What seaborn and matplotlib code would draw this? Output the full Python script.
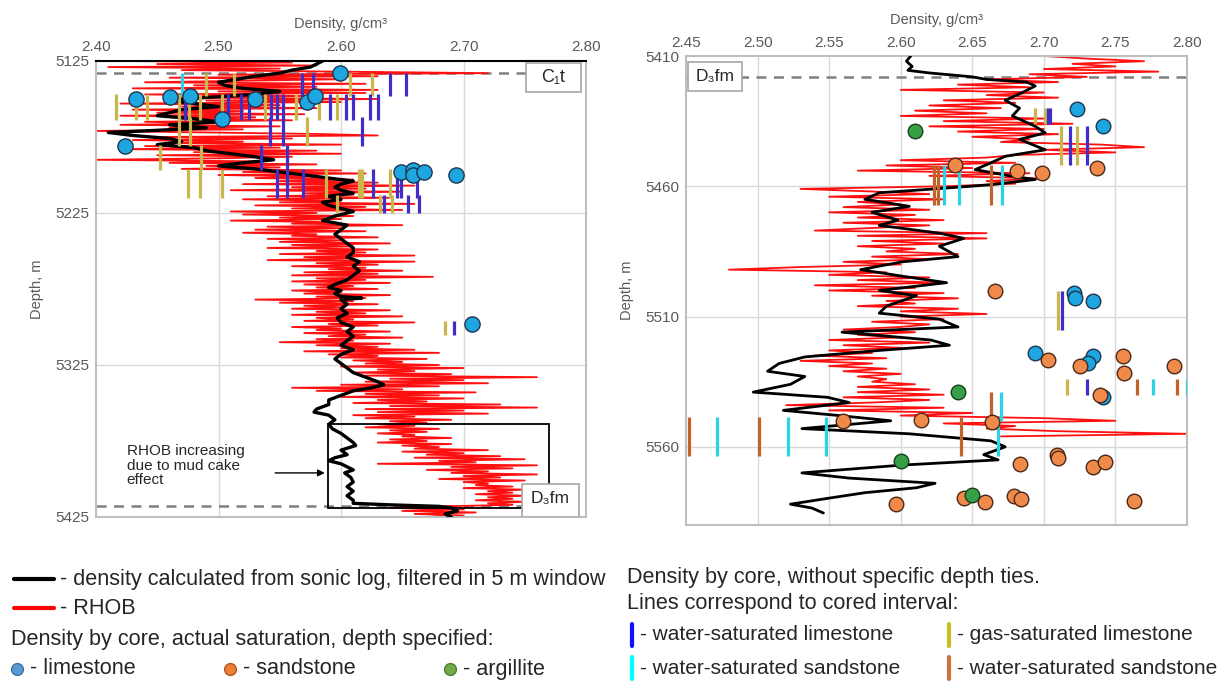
import numpy as np
import pandas as pd
import matplotlib
matplotlib.use("Agg")
import matplotlib.pyplot as plt
import seaborn as sns
from matplotlib.lines import Line2D
from matplotlib.patches import Rectangle

# ---------------- DATA ----------------
# Left well: RHOB log, 1 m sampling from 5125 m
rhob_left_start = 5125
rhob_left = [
    2.42, 2.56, 2.45, 2.58, 2.41, 2.55, 2.47, 2.60, 2.72, 2.50,
    2.63, 2.46, 2.60, 2.52, 2.44, 2.62, 2.48, 2.58, 2.43, 2.63,
    2.50, 2.62, 2.44, 2.57, 2.46, 2.63, 2.49, 2.60, 2.42, 2.55,
    2.47, 2.58, 2.43, 2.52, 2.45, 2.57, 2.42, 2.53, 2.47, 2.56,
    2.44, 2.50, 2.42, 2.55, 2.46, 2.52, 2.40, 2.49, 2.58, 2.63,
    2.45, 2.56, 2.43, 2.52, 2.47, 2.60, 2.44, 2.55, 2.42, 2.58,
    2.48, 2.60, 2.45, 2.56, 2.50, 2.40, 2.53, 2.46, 2.58, 2.49,
    2.55, 2.47, 2.60, 2.52, 2.62, 2.50, 2.58, 2.53, 2.61, 2.55,
    2.63, 2.52, 2.66, 2.56, 2.62, 2.51, 2.65, 2.57, 2.61, 2.54,
    2.64, 2.52, 2.60, 2.55, 2.66, 2.53, 2.62, 2.56, 2.65, 2.51,
    2.58, 2.52, 2.61, 2.55, 2.60, 2.51, 2.59, 2.56, 2.65, 2.54,
    2.60, 2.53, 2.62, 2.52, 2.58, 2.56, 2.63, 2.54, 2.60, 2.55,
    2.64, 2.56, 2.61, 2.54, 2.63, 2.58, 2.62, 2.55, 2.66, 2.57,
    2.61, 2.54, 2.66, 2.58, 2.63, 2.56, 2.62, 2.59, 2.65, 2.57,
    2.63, 2.56, 2.675, 2.58, 2.62, 2.56, 2.64, 2.57, 2.61, 2.58,
    2.63, 2.56, 2.60, 2.57, 2.64, 2.58, 2.62, 2.53, 2.61, 2.55,
    2.63, 2.57, 2.60, 2.56, 2.64, 2.58, 2.62, 2.56, 2.65, 2.58,
    2.61, 2.57, 2.66, 2.59, 2.63, 2.56, 2.60, 2.58, 2.64, 2.57,
    2.62, 2.59, 2.65, 2.58, 2.61, 2.55, 2.64, 2.58, 2.63, 2.60,
    2.66, 2.57, 2.68, 2.59, 2.63, 2.60, 2.67, 2.61, 2.65, 2.62,
    2.68, 2.60, 2.70, 2.63, 2.66, 2.61, 2.69, 2.62, 2.76, 2.64,
    2.70, 2.62, 2.72, 2.60, 2.68, 2.56, 2.65, 2.58, 2.71, 2.62,
    2.68, 2.60, 2.70, 2.63, 2.67, 2.61, 2.73, 2.64, 2.76, 2.62,
    2.70, 2.63, 2.72, 2.61, 2.66, 2.62, 2.69, 2.64, 2.67, 2.63,
    2.66, 2.62, 2.68, 2.64, 2.67, 2.63, 2.66, 2.65, 2.69, 2.64,
    2.67, 2.63, 2.69, 2.65, 2.68, 2.66, 2.72, 2.65, 2.70, 2.67,
    2.73, 2.66, 2.75, 2.68, 2.71, 2.63, 2.76, 2.69, 2.74, 2.67,
    2.72, 2.69, 2.76, 2.70, 2.73, 2.68, 2.75, 2.70, 2.72, 2.71,
    2.74, 2.70, 2.75, 2.72, 2.74, 2.71, 2.75, 2.72, 2.74, 2.71,
    2.75, 2.72, 2.74, 2.68, 2.64, 2.70, 2.65, 2.71, 2.66, 2.70,
    2.67,
]

# Left well: sonic-derived density (filtered)
sonic_left_depth = [
    5125, 5127, 5129, 5131, 5133, 5135, 5137, 5139, 5141, 5143, 5145, 5147,
    5149, 5151, 5153, 5155, 5157, 5159, 5161, 5163, 5165, 5167, 5169, 5171,
    5172, 5174, 5176, 5178, 5180, 5182, 5184, 5186, 5188, 5190, 5192, 5194,
    5196, 5198, 5200, 5202, 5204, 5206, 5208, 5210, 5212, 5214, 5216, 5218,
    5220, 5222, 5224, 5227, 5230, 5233, 5236, 5239, 5242, 5245, 5248, 5251,
    5254, 5257, 5260, 5263, 5266, 5269, 5272, 5274, 5276, 5278, 5280, 5281,
    5282, 5285, 5288, 5291, 5294, 5297, 5300, 5303, 5306, 5309, 5312, 5315,
    5318, 5321, 5324, 5327, 5330, 5333, 5336, 5338, 5340, 5342, 5345, 5348,
    5351, 5354, 5356, 5358, 5361, 5364, 5367, 5370, 5373, 5376, 5378, 5381,
    5384, 5386, 5388, 5390, 5392, 5394, 5396, 5399, 5402, 5405, 5408, 5411,
    5414, 5416, 5417, 5418, 5419, 5421, 5423, 5425,
]
sonic_left = [
    2.585, 2.58, 2.575, 2.56, 2.55, 2.53, 2.515, 2.50, 2.505, 2.52, 2.55, 2.53,
    2.49, 2.46, 2.48, 2.50, 2.47, 2.46, 2.45, 2.48, 2.50, 2.46, 2.49, 2.44,
    2.41, 2.43, 2.46, 2.47, 2.45, 2.48, 2.49, 2.51, 2.53, 2.545, 2.52, 2.50,
    2.53, 2.55, 2.57, 2.59, 2.61, 2.60, 2.595, 2.60, 2.61, 2.59, 2.60, 2.585,
    2.59, 2.60, 2.61, 2.595, 2.585, 2.605, 2.60, 2.595, 2.60, 2.605, 2.61, 2.61,
    2.605, 2.615, 2.61, 2.615, 2.61, 2.605, 2.595, 2.59, 2.60, 2.595, 2.60, 2.617,
    2.60, 2.605, 2.60, 2.605, 2.597, 2.60, 2.61, 2.605, 2.61, 2.605, 2.60, 2.61,
    2.60, 2.595, 2.60, 2.605, 2.61, 2.62, 2.63, 2.635, 2.625, 2.61, 2.60, 2.59,
    2.59, 2.58, 2.578, 2.59, 2.595, 2.59, 2.593, 2.60, 2.605, 2.61, 2.612, 2.60,
    2.605, 2.595, 2.59, 2.60, 2.605, 2.61, 2.603, 2.608, 2.61, 2.605, 2.61, 2.605,
    2.61, 2.61, 2.64, 2.68, 2.69, 2.695, 2.685, 2.69,
]

# Left well: core density, depth specified (limestone)
lime_left_depth = [5133, 5150, 5149, 5148, 5150, 5152, 5148, 5163, 5181,
                   5198, 5197, 5200, 5198, 5200, 5298]
lime_left = [2.599, 2.433, 2.460, 2.477, 2.530, 2.572, 2.579, 2.503, 2.424,
             2.649, 2.659, 2.659, 2.668, 2.694, 2.707]

# Left well: cored intervals (density, top, bottom, type)
core_left_val = [
    2.470, 2.490, 2.513, 2.568, 2.577, 2.607, 2.625, 2.640, 2.653,
    2.416, 2.433, 2.442, 2.468, 2.473, 2.476, 2.485, 2.503, 2.508, 2.518,
    2.525, 2.538, 2.543, 2.548, 2.553, 2.563, 2.582, 2.591, 2.597, 2.604,
    2.610, 2.624, 2.630,
    2.468, 2.477, 2.542, 2.553, 2.572, 2.617,
    2.452, 2.486, 2.535, 2.556,
    2.475, 2.485, 2.503, 2.548, 2.556, 2.569, 2.588, 2.615, 2.617, 2.626,
    2.640, 2.646, 2.649, 2.662,
    2.597, 2.632, 2.635, 2.642, 2.655, 2.664,
    2.685, 2.692,
]
core_left_top = (
    [5133] * 9 + [5147] * 23 + [5162] * 6 + [5180] * 4 + [5196] * 14
    + [5213] * 6 + [5296] * 2
)
core_left_bot = (
    [5148] * 9 + [5164] * 23 + [5181] * 6 + [5197] * 4 + [5215] * 14
    + [5225] * 6 + [5305] * 2
)
core_left_type = [
    "ws", "g", "g", "w", "w", "g", "g", "w", "w",
    "g", "g", "g", "g", "w", "g", "g", "g", "w", "w",
    "w", "g", "w", "w", "w", "g", "g", "w", "g", "w",
    "w", "w", "w",
    "g", "g", "w", "w", "g", "w",
    "g", "g", "w", "w",
    "g", "g", "g", "w", "w", "w", "g", "g", "g", "w",
    "g", "w", "w", "w",
    "g", "g", "w", "g", "w", "w",
    "g", "w",
]

# Right well: RHOB log, 1 m sampling from 5410 m
rhob_right_start = 5410
rhob_right = [
    2.70, 2.73, 2.77, 2.72, 2.75, 2.70, 2.78, 2.69, 2.73, 2.66,
    2.71, 2.64, 2.69, 2.60, 2.70, 2.66, 2.71, 2.63, 2.68, 2.62,
    2.67, 2.61, 2.66, 2.60, 2.70, 2.63, 2.72, 2.62, 2.70, 2.64,
    2.71, 2.65, 2.69, 2.67, 2.74, 2.77, 2.70, 2.75, 2.68, 2.66,
    2.60, 2.68, 2.59, 2.65, 2.57, 2.69, 2.62, 2.70, 2.66, 2.68,
    2.63, 2.53, 2.58, 2.62, 2.55, 2.63, 2.57, 2.60, 2.56, 2.62,
    2.55, 2.61, 2.57, 2.63, 2.56, 2.62, 2.58, 2.54, 2.66, 2.57,
    2.66, 2.58, 2.63, 2.57, 2.61, 2.59, 2.64, 2.58, 2.62, 2.56,
    2.60, 2.53, 2.48, 2.59, 2.55, 2.62, 2.57, 2.63, 2.54, 2.61,
    2.55, 2.63, 2.58, 2.64, 2.59, 2.61, 2.57, 2.64, 2.60, 2.66,
    2.60, 2.63, 2.58, 2.62, 2.60, 2.56, 2.61, 2.57, 2.60, 2.55,
    2.62, 2.56, 2.60, 2.55, 2.58, 2.54, 2.59, 2.53, 2.58, 2.55,
    2.59, 2.56, 2.60, 2.57, 2.59, 2.58, 2.61, 2.57, 2.62, 2.57,
    2.63, 2.56, 2.62, 2.58, 2.52, 2.63, 2.55, 2.65, 2.60, 2.70,
    2.75, 2.63, 2.68, 2.66, 2.71, 2.80, 2.67,
]

# Right well: sonic-derived density
sonic_right_depth = [
    5410, 5412, 5414, 5415.5, 5416.5, 5418, 5419, 5420, 5421.5, 5424, 5427,
    5430, 5433, 5437, 5439.5, 5442, 5446, 5448.5, 5451, 5453.6, 5456, 5457.4,
    5459.4, 5461, 5462.5, 5465, 5467.7, 5470, 5473, 5475, 5478, 5480, 5483,
    5487, 5489, 5492, 5494.5, 5497, 5500, 5502, 5506, 5508.7, 5511, 5514,
    5516, 5519, 5521, 5523, 5525.5, 5528, 5531, 5533, 5536, 5539, 5541, 5543,
    5546, 5548, 5550, 5553, 5555, 5557.7, 5560, 5563, 5565, 5567, 5570, 5572,
    5574, 5575.7, 5577.6, 5579.6, 5582, 5583.5, 5585.4,
]
sonic_right = [
    2.607, 2.604, 2.608, 2.605, 2.62, 2.65, 2.66, 2.688, 2.694, 2.685, 2.673,
    2.683, 2.678, 2.694, 2.701, 2.683, 2.701, 2.673, 2.663, 2.652, 2.676, 2.694,
    2.663, 2.624, 2.585, 2.575, 2.606, 2.58, 2.598, 2.585, 2.627, 2.644, 2.627,
    2.64, 2.601, 2.572, 2.601, 2.632, 2.585, 2.611, 2.59, 2.585, 2.627, 2.64,
    2.559, 2.621, 2.634, 2.585, 2.533, 2.515, 2.507, 2.533, 2.523, 2.497, 2.549,
    2.564, 2.518, 2.557, 2.593, 2.531, 2.606, 2.663, 2.673, 2.658, 2.668, 2.601,
    2.531, 2.564, 2.624, 2.611, 2.575, 2.551, 2.523, 2.538, 2.546,
]

# Right well: core density, depth specified
arg_right_depth = [5438.6, 5539, 5565.4, 5578.6]
arg_right = [2.610, 2.640, 2.600, 2.650]
lime_right_depth = [5430.5, 5437, 5501, 5503, 5504, 5524, 5525, 5528, 5541]
lime_right = [2.723, 2.741, 2.721, 2.722, 2.734, 2.694, 2.734, 2.731, 2.741]
sand_right_depth = [5452, 5454, 5455, 5453, 5500, 5526.5, 5529, 5525, 5531.6,
                    5529, 5540, 5550, 5549.6, 5550.6, 5563, 5564.4, 5566.7,
                    5567.6, 5566, 5579, 5580, 5579.6, 5581, 5582, 5580.6]
sand_right = [2.638, 2.681, 2.699, 2.737, 2.666, 2.703, 2.725, 2.755, 2.756,
              2.791, 2.739, 2.560, 2.614, 2.664, 2.709, 2.710, 2.683, 2.734,
              2.743, 2.679, 2.684, 2.644, 2.659, 2.597, 2.763]

# Right well: cored intervals
core_right_val = [
    2.694, 2.701, 2.703, 2.704,
    2.712, 2.718, 2.723, 2.730,
    2.623, 2.626, 2.630, 2.641, 2.663, 2.671,
    2.710, 2.713,
    2.716, 2.730, 2.765, 2.776, 2.793, 2.800,
    2.663, 2.670,
    2.452, 2.472, 2.501, 2.521, 2.548, 2.642, 2.668,
]
core_right_top = ([5430] * 4 + [5437] * 4 + [5451.7] * 6 + [5500] * 2
                  + [5534] * 6 + [5539] * 2 + [5548.7] * 7)
core_right_bot = ([5436] * 4 + [5452] * 4 + [5467] * 6 + [5515] * 2
                  + [5540] * 6 + [5550] * 2 + [5563.5] * 7)
core_right_type = [
    "g", "g", "w", "w",
    "g", "w", "g", "w",
    "ss", "ss", "ws", "ws", "ss", "ws",
    "g", "w",
    "g", "w", "ss", "ws", "ss", "ws",
    "ss", "ws",
    "ss", "ws", "ss", "ws", "ws", "ss", "ws",
]

# ---------------- STYLE ----------------
sns.set_style("white")
plt.rcParams['font.family'] = ['Liberation Sans', 'DejaVu Sans']

RED = "#ff1010"
CORE_COL = {"w": "#3f2fc8", "g": "#c9b64c", "ws": "#2ad3e6", "ss": "#c2622c"}
LIME, LIME_E = "#1ea6e0", "#1d3550"
SAND, SAND_E = "#ef8a4b", "#4a2816"
ARG, ARG_E = "#35a046", "#173f1c"
GRID = "#d9d9d9"
TICK = "#595959"
SPINE = "#bfbfbf"

W, H = 1225, 682
fig = plt.figure(figsize=(W / 100, H / 100), dpi=100)


def axes_px(x0, y0, x1, y1):
    return fig.add_axes([x0 / W, 1 - y1 / H, (x1 - x0) / W, (y1 - y0) / H])


axL = axes_px(96, 61, 586, 517)
axR = axes_px(686, 56, 1187, 525)

# ---------------- LEFT PANEL ----------------
dfL = pd.DataFrame({"depth": rhob_left_start + np.arange(len(rhob_left)),
                    "rho": rhob_left})
ax = axL
ax.set_xlim(2.40, 2.80)
ax.set_ylim(5425, 5125)
for v in [2.50, 2.60, 2.70]:
    ax.axvline(v, color=GRID, lw=1, zorder=0)
for d in [5225, 5325]:
    ax.axhline(d, color=GRID, lw=1, zorder=0)
ax.plot([2.40, 2.80], [5133, 5133], color="#808080", lw=1.8, ls=(0, (4, 3)), zorder=1)
ax.plot([2.40, 2.80], [5418, 5418], color="#808080", lw=1.8, ls=(0, (4, 3)), zorder=1)
sns.lineplot(data=dfL, x="rho", y="depth", sort=False, estimator=None,
             color=RED, lw=1.3, ax=ax, zorder=2)
sns.lineplot(x=sonic_left, y=sonic_left_depth, sort=False, estimator=None,
             color="black", lw=2.4, ax=ax, zorder=3)
for v, t, b, k in zip(core_left_val, core_left_top, core_left_bot, core_left_type):
    ax.vlines(v, t, b, color=CORE_COL[k], lw=2.3, zorder=4)
sns.scatterplot(x=lime_left, y=lime_left_depth, s=120, color=LIME,
                edgecolor=LIME_E, linewidth=1.0, ax=ax, zorder=5)

# annotations
ax.add_patch(Rectangle((2.589, 5364), 0.181, 55, fill=False, ec="black", lw=1.3, zorder=6))
ax.annotate("", xy=(2.589, 5396), xytext=(2.544, 5396),
            arrowprops=dict(arrowstyle="-|>", color="black", lw=1, mutation_scale=10), zorder=6)
ax.text(2.425, 5377, "RHOB increasing\ndue to mud cake\neffect", fontsize=11,
        va="top", ha="left", linespacing=1.05, zorder=6)
ax.add_patch(Rectangle((2.751, 5126.5), 0.045, 19, fc="white", ec="#a6a6a6", lw=1.2, zorder=6))
ax.text(2.7735, 5136, "C₁t", fontsize=13, ha="center", va="center", zorder=7)
ax.add_patch(Rectangle((2.748, 5403), 0.046, 22, fc="white", ec="#a6a6a6", lw=1.2, zorder=6))
ax.text(2.771, 5413, "D₃fm", fontsize=12.5, ha="center", va="center", zorder=7)

ax.set_xticks([2.40, 2.50, 2.60, 2.70, 2.80])
ax.set_xticklabels(["2.40", "2.50", "2.60", "2.70", "2.80"])
ax.set_yticks([5125, 5225, 5325, 5425])
ax.set_yticklabels(["5125", "5225", "5325", "5425"])

# ---------------- RIGHT PANEL ----------------
dfR = pd.DataFrame({"depth": rhob_right_start + np.arange(len(rhob_right)),
                    "rho": rhob_right})
ax = axR
ax.set_xlim(2.45, 2.80)
ax.set_ylim(5590, 5410)
for v in [2.50, 2.55, 2.60, 2.65, 2.70, 2.75]:
    ax.axvline(v, color=GRID, lw=1, zorder=0)
for d in [5460, 5510, 5560]:
    ax.axhline(d, color=GRID, lw=1, zorder=0)
ax.plot([2.45, 2.80], [5418, 5418], color="#808080", lw=1.8, ls=(0, (4, 3)), zorder=1)
sns.lineplot(data=dfR, x="rho", y="depth", sort=False, estimator=None,
             color=RED, lw=1.3, ax=ax, zorder=2)
sns.lineplot(x=sonic_right, y=sonic_right_depth, sort=False, estimator=None,
             color="black", lw=2.0, ax=ax, zorder=3)
for v, t, b, k in zip(core_right_val, core_right_top, core_right_bot, core_right_type):
    ax.vlines(v, t, b, color=CORE_COL[k], lw=2.3, zorder=4)
sns.scatterplot(x=lime_right, y=lime_right_depth, s=110, color=LIME,
                edgecolor=LIME_E, linewidth=1.0, ax=ax, zorder=5)
sns.scatterplot(x=sand_right, y=sand_right_depth, s=110, color=SAND,
                edgecolor=SAND_E, linewidth=1.0, ax=ax, zorder=5)
sns.scatterplot(x=arg_right, y=arg_right_depth, s=110, color=ARG,
                edgecolor=ARG_E, linewidth=1.0, ax=ax, zorder=5)
ax.add_patch(Rectangle((2.4515, 5412.3), 0.0375, 11.2, fc="white", ec="#a6a6a6", lw=1.2, zorder=6))
ax.text(2.4703, 5418, "D₃fm", fontsize=12.5, ha="center", va="center", zorder=7)

ax.set_xticks([2.45, 2.50, 2.55, 2.60, 2.65, 2.70, 2.75, 2.80])
ax.set_xticklabels(["2.45", "2.50", "2.55", "2.60", "2.65", "2.70", "2.75", "2.80"])
ax.set_yticks([5410, 5460, 5510, 5560])
ax.set_yticklabels(["5410", "5460", "5510", "5560"])

# common axis styling
for ax in (axL, axR):
    ax.xaxis.tick_top()
    ax.xaxis.set_label_position("top")
    ax.set_xlabel("Density, g/cm³", fontsize=10.5, color=TICK, labelpad=9)
    ax.set_ylabel("Depth, m", fontsize=10.5, color=TICK, labelpad=8)
    ax.tick_params(axis="both", length=0, labelsize=11, colors=TICK, pad=5)
    for s in ax.spines.values():
        s.set_color(SPINE)
        s.set_linewidth(1.5)
axL.spines["top"].set_color("black")
axR.tick_params(axis="x", pad=4)

# ---------------- LEGEND TEXT ----------------
def fx(x):
    return x / W


def fy(y):
    return 1 - y / H


FS = 15.6
FS2 = 15.0
fig.add_artist(Line2D([fx(14), fx(54)], [fy(579), fy(579)], color="black", lw=3))
fig.text(fx(60), fy(579), "- density calculated from sonic log, filtered in 5 m window",
         fontsize=FS, va="center")
fig.add_artist(Line2D([fx(14), fx(54)], [fy(608), fy(608)], color="#ff0000", lw=3))
fig.text(fx(60), fy(608), "- RHOB", fontsize=FS, va="center")
fig.text(fx(11), fy(640), "Density by core, actual saturation, depth specified:",
         fontsize=FS, va="center")
for xm, xt, fc, ec, lab in [(17, 30, "#5b9bd5", "#41719c", "- limestone"),
                            (230, 243, "#ed7d31", "#ae5a21", "- sandstone"),
                            (450, 463, "#70ad47", "#507e32", "- argillite")]:
    fig.add_artist(Line2D([fx(xm)], [fy(669)], marker="o", ms=8.5, mfc=fc, mec=ec, mew=1))
    fig.text(fx(xt), fy(669), lab, fontsize=FS, va="center")

fig.text(fx(627), fy(578), "Density by core, without specific depth ties.",
         fontsize=FS, va="center")
fig.text(fx(627), fy(604), "Lines correspond to cored interval:",
         fontsize=FS, va="center")
for xb, yb, col, lab in [(632, 635, "#1010ff", "- water-saturated limestone"),
                         (949, 635, "#c8c020", "- gas-saturated limestone"),
                         (632, 668, "#00ffff", "- water-saturated sandstone"),
                         (949, 668, "#d07040", "- water-saturated sandstone")]:
    fig.add_artist(Line2D([fx(xb), fx(xb)], [fy(yb - 11), fy(yb + 11)], color=col, lw=3))
    fig.text(fx(xb + 8), fy(yb), lab, fontsize=FS2, va="center")

fig.savefig("out.png", dpi=100)
